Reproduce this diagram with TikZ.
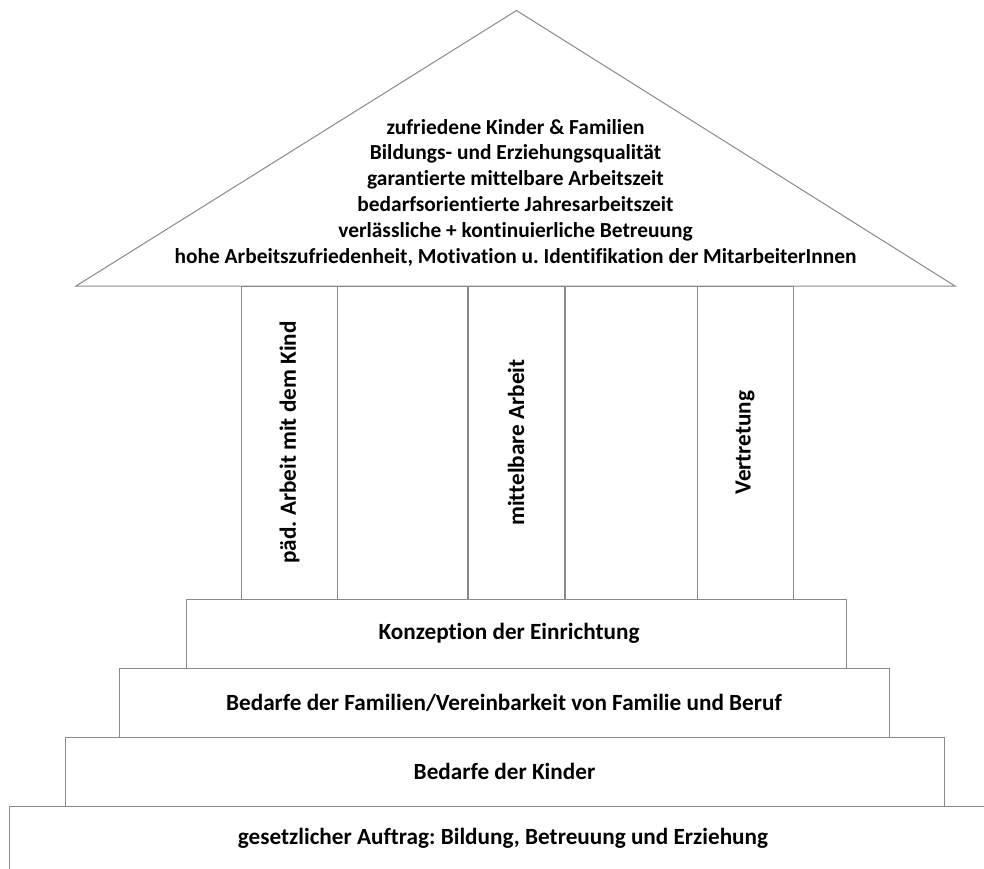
\documentclass[tikz,border=0pt]{standalone}
\usepackage{fontspec}
\setmainfont{Carlito}[Ligatures=NoCommon]
\frenchspacing
\definecolor{edge}{RGB}{138,138,138}
\begin{document}
\begin{tikzpicture}[x=1pt,y=-1pt,
  box/.style={draw=edge,line width=1pt,fill=white,inner sep=0pt},
  rooftxt/.style={font=\fontsize{21.4}{25.8}\selectfont\bfseries,align=center,inner sep=0pt},
  txt/.style={font=\fontsize{23.2}{27}\selectfont\bfseries,align=center,inner sep=0pt}]
\useasboundingbox (0,0) rectangle (984,868);
% roof
\coordinate (apex) at (516.5,10.5);
\coordinate (bl) at (76,286);
\coordinate (br) at (955,286);
\draw[draw=edge,line width=1pt,fill=white] (bl) -- (apex) -- (br) -- cycle;
\node[rooftxt] (roof) at (515.5,192.5) {zufriedene Kinder \& Familien\\Bildungs- und Erziehungsqualität\\garantierte mittelbare Arbeitszeit\\bedarfsorientierte Jahresarbeitszeit\\verlässliche + kontinuierliche Betreuung\\hohe Arbeitszufriedenheit, Motivation u. Identifikation der MitarbeiterInnen};
% pillars
\node[box,minimum width=96pt,minimum height=313pt] (p1) at (289.5,442.5) {};
\node[box,minimum width=130pt,minimum height=313pt] (g1) at (402.5,442.5) {};
\node[box,minimum width=96pt,minimum height=313pt] (p2) at (516,442.5) {};
\node[box,minimum width=132pt,minimum height=313pt] (g2) at (631,442.5) {};
\node[box,minimum width=96pt,minimum height=313pt] (p3) at (745,442.5) {};
\node[txt,rotate=90] (t1) at (p1) {päd. Arbeit mit dem Kind};
\node[txt,rotate=90] (t2) at (p2) {mittelbare Arbeit};
\node[txt,rotate=90] (t3) at (p3) {Vertretung};
% steps
\node[box,minimum width=988pt,minimum height=70pt] (s4) at (503,841) {};
\node[txt] (s4t) at (503,838) {gesetzlicher Auftrag: Bildung, Betreuung und Erziehung};
\node[box,minimum width=879pt,minimum height=69pt] (s3) at (504.5,771.5) {};
\node[txt] (s3t) at (s3) {Bedarfe der Kinder};
\node[box,minimum width=770pt,minimum height=69pt] (s2) at (504,702.5) {};
\node[txt] (s2t) at (s2) {Bedarfe der Familien/Vereinbarkeit von Familie und Beruf};
\node[box,minimum width=660pt,minimum height=69pt] (s1) at (516,633.5) {};
\node[txt] (s1t) at (509,633.5) {Konzeption der Einrichtung};
\end{tikzpicture}
\end{document}
